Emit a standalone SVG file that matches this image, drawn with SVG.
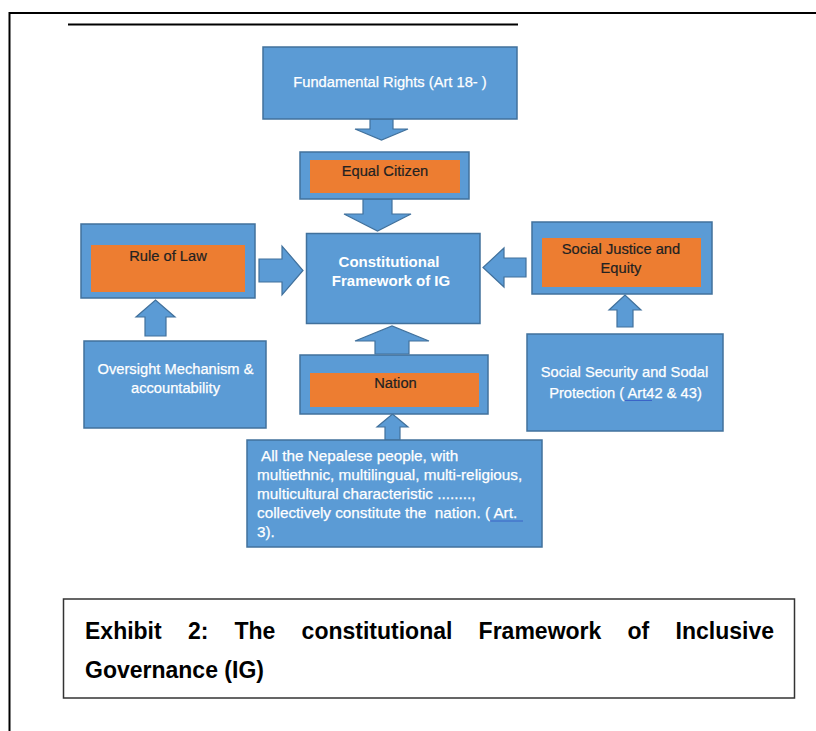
<svg xmlns="http://www.w3.org/2000/svg" width="816" height="731" viewBox="0 0 816 731">
<style>
.bg{fill:#ffffff}
.frame{fill:none;stroke:#000;stroke-width:2}
.blue{fill:#5b9bd5;stroke:#41719c;stroke-width:1.5}
.orange{fill:#ed7d31;stroke:none}
.arrow{fill:#5b9bd5;stroke:#41719c;stroke-width:1.2;stroke-linejoin:miter}
.wt{font-family:"Liberation Sans",Arial,sans-serif;fill:#ffffff;stroke:#ffffff;stroke-width:0.25;font-size:14.7px;text-anchor:middle}
.wb{font-family:"Liberation Sans",Arial,sans-serif;fill:#ffffff;font-size:15px;font-weight:bold;text-anchor:middle}
.dt{font-family:"Liberation Sans",Arial,sans-serif;fill:#222222;stroke:#222222;stroke-width:0.2;font-size:14.7px;text-anchor:middle}
.bt{font-family:"Liberation Sans",Arial,sans-serif;fill:#ffffff;stroke:#ffffff;stroke-width:0.25;font-size:15.3px}
.cap{font-family:"Liberation Sans",Arial,sans-serif;fill:#000;font-size:23px;font-weight:bold}
.ul{stroke:#3a64c8;stroke-width:1}
</style>
<rect class="bg" x="0" y="0" width="816" height="731"/>
<g id="page-frame">
<path class="frame" d="M9.5,731 V13 H816"/>
<line x1="68" y1="24.5" x2="518" y2="24.5" stroke="#000" stroke-width="2"/>
</g>
<g id="connectors">
<path class="arrow" d="M370,119 H393 V129 H408 L381.5,140 L355,129 H370 Z"/>
<path class="arrow" d="M363,199 H392 V214 H411 L377.5,231 L344,214 H363 Z"/>
<path class="arrow" d="M259,259 H282 V246 L303,270.5 L282,295 V282 H259 Z"/>
<path class="arrow" d="M526,258 H504 V248 L483,267.5 L504,287 V277 H526 Z"/>
<path class="arrow" d="M145,336 V317 H136 L155.5,300 L175,317 H166 V336 Z"/>
<path class="arrow" d="M617,327 V310 H609 L625,295 L641,310 H633 V327 Z"/>
<path class="arrow" d="M375,354 V341 H355 L392,326 L429,341 H409 V354 Z"/>
<path class="arrow" d="M385,440 V427 H377 L392.5,414 L408,427 H400 V440 Z"/>
</g>
<g id="fundamental-rights">
<rect class="blue" x="263" y="47" width="254" height="72"/>
<text class="wt" x="390" y="87">Fundamental Rights (Art 18- )</text>
</g>
<g id="equal-citizen">
<rect class="blue" x="300" y="152" width="169" height="47"/>
<rect class="orange" x="310" y="160" width="150" height="33"/>
<text class="dt" x="385" y="176">Equal Citizen</text>
</g>
<g id="constitutional-framework">
<rect class="blue" x="306.5" y="233.5" width="173.5" height="90"/>
<text class="wb" x="389" y="267">Constitutional</text>
<text class="wb" x="391" y="286">Framework of IG</text>
</g>
<g id="rule-of-law">
<rect class="blue" x="81" y="224" width="174" height="74"/>
<rect class="orange" x="91" y="245" width="154" height="47"/>
<text class="dt" x="168" y="261">Rule of Law</text>
</g>
<g id="oversight">
<rect class="blue" x="84" y="341" width="182" height="87"/>
<text class="wt" x="175.5" y="374" font-size="15">Oversight Mechanism &amp;</text>
<text class="wt" x="175.5" y="393" font-size="15">accountability</text>
</g>
<g id="nation">
<rect class="blue" x="300" y="355" width="188" height="59"/>
<rect class="orange" x="310" y="373" width="169" height="34"/>
<text class="dt" x="395.5" y="388" font-size="15.3">Nation</text>
</g>
<g id="nepalese-people">
<rect class="blue" x="247" y="440" width="295" height="107"/>
<text class="bt" x="261" y="461">All the Nepalese people, with</text>
<text class="bt" x="257" y="480">multiethnic, multilingual, multi-religious,</text>
<text class="bt" x="257" y="499">multicultural characteristic ........,</text>
<text class="bt" x="257" y="518" xml:space="preserve">collectively constitute the  nation. ( Art.</text>
<text class="bt" x="257" y="537">3).</text>
<line class="ul" x1="490" y1="521" x2="523" y2="521"/>
</g>
<g id="social-justice">
<rect class="blue" x="532" y="222" width="180" height="72"/>
<rect class="orange" x="542" y="238" width="159" height="49"/>
<text class="dt" x="621" y="254" font-size="14.5">Social Justice and</text>
<text class="dt" x="621" y="273" font-size="14.5">Equity</text>
</g>
<g id="social-security">
<rect class="blue" x="527" y="334" width="196" height="97"/>
<text class="wt" x="624.5" y="377" font-size="14.5">Social Security and Sodal</text>
<text class="wt" x="625.5" y="398" font-size="14.5">Protection ( Art42 &amp; 43)</text>
<line class="ul" x1="625" y1="400.5" x2="652" y2="400.5"/>
</g>
<g id="caption">
<rect x="63.5" y="599" width="731" height="99" fill="#fff" stroke="#333" stroke-width="1.5"/>
<text class="cap" y="639"><tspan x="85">Exhibit</tspan><tspan x="187.9">2:</tspan><tspan x="234.5">The</tspan><tspan x="301.6">constitutional</tspan><tspan x="478.6">Framework</tspan><tspan x="627.5">of</tspan><tspan x="774" text-anchor="end">Inclusive</tspan></text>
<text class="cap" x="85" y="678">Governance (IG)</text>
</g>
</svg>
